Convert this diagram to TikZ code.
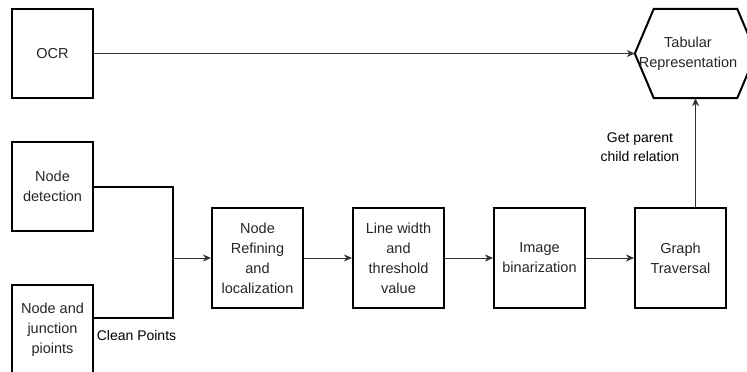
\documentclass[tikz,border=0pt]{standalone}
\usepackage{fontspec}
\setmainfont{Liberation Sans}
\usetikzlibrary{arrows.meta,calc}
\begin{document}
\begin{tikzpicture}[x=1pt,y=-1pt,
  box/.style={draw=black,line width=2pt,minimum width=91pt,minimum height=100pt,inner sep=0pt,align=center,font=\fontsize{14.5}{20}\selectfont,text=black!85},
  sbox/.style={box,minimum width=81pt,minimum height=89pt},
  conn/.style={line width=0.9pt,draw=black!80},
  arr/.style={conn,-{Stealth[length=8pt,width=7pt,inset=2.5pt]}},
  brk/.style={line width=2pt,draw=black},
  lbl/.style={font=\fontsize{14}{19}\selectfont,align=center,inner sep=0pt,text=black}]
\useasboundingbox (0,0) rectangle (747,372);
% left column
\node[sbox] (ocr) at (52.5,53.5) {OCR};
\node[sbox] (nd) at (52.5,186.5) {Node\\detection};
\node[sbox] (nj) at (52.5,329.5) {Node and\\junction\\pioints};
% pipeline
\node[box] (nr) at (257.5,258) {Node\\Refining\\and\\localization};
\node[box] (lw) at (398.5,258) {Line width\\and\\threshold\\value};
\node[box] (ib) at (539.5,258) {Image\\binarization};
\node[box] (gt) at (680.5,258) {Graph\\Traversal};
% hexagon
\node[minimum width=121pt,minimum height=89pt,inner sep=0pt] (tab) at (695.5,53.5) {};
\draw[line width=2pt] (tab.west) -- ($(tab.north west)+(19,0)$) -- ($(tab.north east)+(-19,0)$) -- (tab.east) -- ($(tab.south east)+(-19,0)$) -- ($(tab.south west)+(19,0)$) -- cycle;
\node[box,draw=none,minimum width=0pt,minimum height=0pt] (tabt) at (688,54) {Tabular\\Representation};
% connectors
\coordinate (jn) at (173,258);
\draw[brk] (nd.east |- 0,187) -| (jn) |- (nj.east |- 0,318);
\draw[arr] (jn) -- (nr.west);
\draw[arr] (nr.east) -- (lw.west);
\draw[arr] (lw.east) -- (ib.west);
\draw[arr] (ib.east) -- (gt.west);
\draw[arr] (ocr.east) -- (tab.west);
\draw[arr] (gt.north -| tab.south) -- (tab.south);
% labels
\node[lbl] (cp) at (136.5,335) {Clean Points};
\node[lbl] (gp) at (640,147.5) {Get parent\\child relation};
\end{tikzpicture}
\end{document}
